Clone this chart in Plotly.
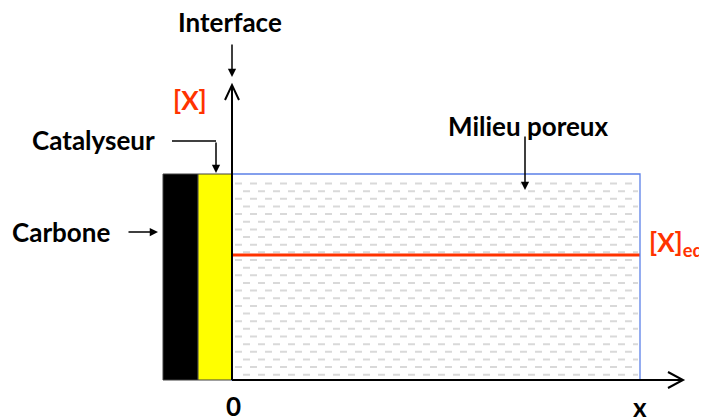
import numpy as np
import plotly.graph_objects as go

# diagram geometry, in page pixels (origin top-left)
layer_names = ["Carbone", "Catalyseur"]
layer_x = [[163, 198], [198, 232]]
layer_colors = ["#000000", "#ffff00"]
layer_top, layer_bottom = 174, 380

porous_x = [232, 640]
equ_level_y = 255
y_axis_top = 86
x_axis_end = 682

labels = ["Interface", "[X]", "Catalyseur", "Milieu poreux", "Carbone",
          "[X]<sub>equ</sub>", "0", "x"]
label_x = [230, 190, 93, 528, 61, 647, 233, 640]
label_y = [22, 100, 140, 126, 232, 243, 406, 407]
label_colors = ["black", "#ff3300", "black", "black", "black", "#ff3300", "black", "black"]
label_anchor = ["center", "center", "center", "center", "center", "left", "center", "center"]

# pointer arrows: (tail x, tail y, head x, head y)
pointers = [(232, 43, 232, 77), (216, 141, 216, 173), (525, 135, 525, 190), (127, 232, 158, 232)]

font = "Lato"
pad = 8  # default page margin of the html body
fig = go.Figure()

# dashed fill of the porous medium
rows = np.arange(layer_top + 9.5, layer_bottom - 1, 7.65)
for i, ry in enumerate(rows):
    x0 = porous_x[0] + (3 if i % 2 == 0 else 11)
    fig.add_trace(go.Scatter(
        x=[x0, porous_x[1] - 2], y=[ry, ry], mode="lines",
        line=dict(color="#d9d9d9", width=2, dash="7px,8px"),
        hoverinfo="skip", showlegend=False
    ))

shapes = []
for (xa, xb), col in zip(layer_x, layer_colors):
    shapes.append(dict(type="rect", x0=xa, x1=xb, y0=layer_top, y1=layer_bottom,
                       fillcolor=col, line=dict(color="#404040", width=1)))
shapes.append(dict(type="rect", x0=porous_x[0], x1=porous_x[1], y0=layer_top, y1=layer_bottom,
                   line=dict(color="#5b80e8", width=1.3)))

# concentration at equilibrium
fig.add_trace(go.Scatter(
    x=porous_x, y=[equ_level_y, equ_level_y], mode="lines",
    line=dict(color="#ff3300", width=3.2), hoverinfo="skip", showlegend=False
))

# axes with open chevron heads
ax0 = porous_x[0]
shapes.append(dict(type="line", x0=ax0, x1=ax0, y0=layer_bottom, y1=y_axis_top,
                   line=dict(color="black", width=2)))
shapes.append(dict(type="line", x0=ax0, x1=x_axis_end, y0=layer_bottom, y1=layer_bottom,
                   line=dict(color="black", width=2)))
shapes.append(dict(type="path", line=dict(color="black", width=2),
                   path=f"M {ax0-7},{y_axis_top+14} L {ax0},{y_axis_top-1} L {ax0+7},{y_axis_top+14}"))
shapes.append(dict(type="path", line=dict(color="black", width=2),
                   path=f"M {x_axis_end-14},{layer_bottom-8} L {x_axis_end+1},{layer_bottom} "
                        f"L {x_axis_end-14},{layer_bottom+8}"))
# catalyseur pointer elbow
shapes.append(dict(type="line", x0=172, x1=pointers[1][0], y0=pointers[1][1], y1=pointers[1][1],
                   line=dict(color="black", width=1.5)))

annotations = []
for t, lx, ly, c, a in zip(labels, label_x, label_y, label_colors, label_anchor):
    annotations.append(dict(x=lx, y=ly, text=f"<b>{t}</b>", showarrow=False,
                            xanchor=a, yanchor="middle",
                            font=dict(family=font, size=26, color=c)))
for tx, ty, hx, hy in pointers:
    annotations.append(dict(x=hx, y=hy, ax=tx, ay=ty, axref="x", ayref="y",
                            text="", showarrow=True, arrowhead=2, arrowsize=1.1,
                            arrowwidth=1.5, arrowcolor="black", standoff=0))

fig.update_layout(
    width=707 - pad, height=420 - pad,
    margin=dict(l=0, r=0, t=0, b=0),
    paper_bgcolor="white", plot_bgcolor="white",
    xaxis=dict(range=[pad, 707], visible=False, fixedrange=True),
    yaxis=dict(range=[420, pad], visible=False, fixedrange=True),
    shapes=shapes, annotations=annotations, showlegend=False
)

fig.write_html("out.html")
